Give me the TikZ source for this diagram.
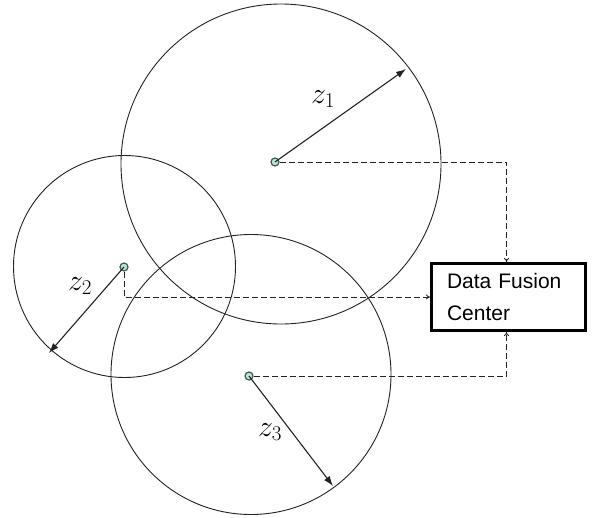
\RequirePackage{fix-cm}
\documentclass[tikz,border=0pt]{standalone}
\usepackage{fontspec}
\newfontfamily\boxfont{Liberation Sans}
\usetikzlibrary{arrows.meta}
\definecolor{dotfill}{HTML}{BFE3D6}
\definecolor{dotline}{HTML}{3A5A55}
\definecolor{ink}{HTML}{222222}
\tikzset{
  rangecircle/.style={draw=ink, line width=0.9pt},
  sensor/.style={circle, draw=dotline, fill=dotfill, line width=1.2pt, minimum size=8pt, inner sep=0pt},
  radiusarrow/.style={draw=ink, line width=1.1pt, -{Latex[length=10pt,width=7pt]}},
  link/.style={draw=ink, line width=0.8pt, dash pattern=on 6pt off 3pt, -{To[length=4pt,width=5pt]}},
  fusion/.style={draw=black, line width=3pt, minimum width=154pt, minimum height=67pt, inner xsep=0pt, text width=123pt, align=left, font=\boxfont\fontsize{21}{32}\selectfont},
  zlabel/.style={font=\fontsize{30}{36}\selectfont, inner sep=0pt}
}
\begin{document}
\begin{tikzpicture}[x=1pt,y=-1pt]
\useasboundingbox (0,0) rectangle (594,517);
% range circles
\draw[rangecircle] (281,164) circle[radius=160pt];
\draw[rangecircle] (124.5,266.5) circle[radius=111pt];
\draw[rangecircle] (251,374.5) circle[radius=140pt];
% sensors
\node[sensor] (s1) at (275,162) {};
\node[sensor] (s2) at (124,267) {};
\node[sensor] (s3) at (249,376) {};
% fusion center
\node[fusion] (fc) at (508.5,297) {Data Fusion\\Center};
% radius arrows
\coordinate (t1) at (406,69);
\coordinate (t2) at (49,353);
\coordinate (t3) at (333,486);
\draw[radiusarrow] (s1.center) -- (t1);
\draw[radiusarrow] (s2.center) -- (t2);
\draw[radiusarrow] (s3.center) -- (t3);
% labels
\node[zlabel] (l1) at (323,99) {$z_1$};
\node[zlabel] (l2) at (80,286) {$z_2$};
\node[zlabel] (l3) at (270,432) {$z_3$};
% dashed links
\draw[link] (s1.east) -| ([xshift=-2pt]fc.north);
\draw[link] (s2.south) |- (fc.west);
\draw[link] (s3.east) -| ([xshift=-2pt]fc.south);
\end{tikzpicture}
\end{document}
